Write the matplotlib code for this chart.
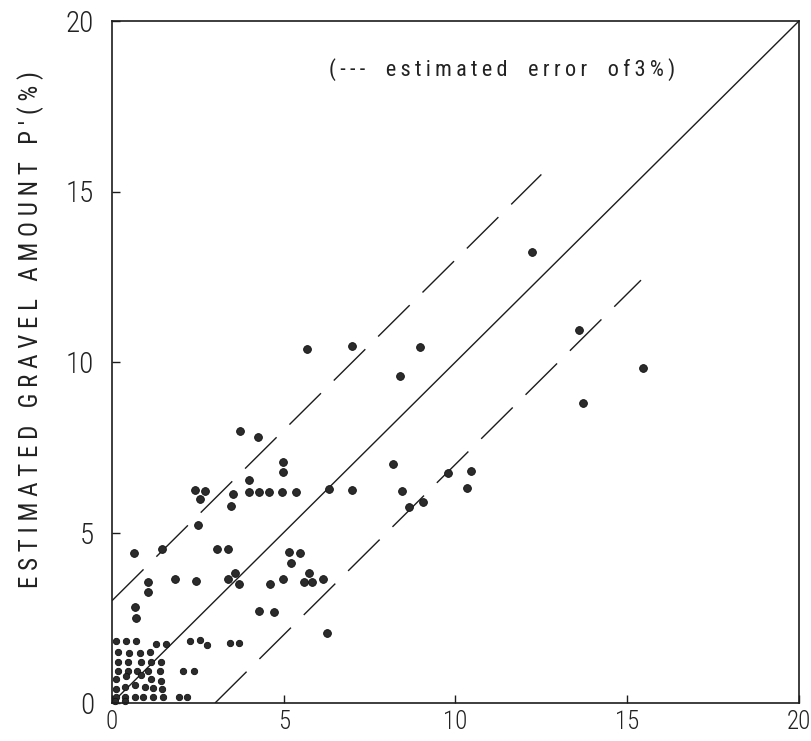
import matplotlib
matplotlib.use("Agg")
import matplotlib.pyplot as plt
from matplotlib import font_manager

# ---------------- data ----------------
# measured (true) gravel amount P (%) -> x ; estimated P' (%) -> y
actual_upper = [0.65, 1.46, 3.05, 3.37, 5.16, 5.48, 5.21, 1.04, 1.06, 1.84, 2.44,
                3.39, 3.58, 3.69, 4.60, 4.99, 0.66, 0.70, 4.28, 4.72, 5.74, 5.59,
                5.81, 6.15, 6.26, 3.73, 4.26, 4.97, 4.97, 4.00, 2.42, 2.71, 2.56,
                3.51, 3.46, 4.00, 4.29, 4.58, 4.94, 5.36, 2.49, 6.32, 6.98, 5.67,
                6.98, 8.97, 8.38, 8.17, 8.43, 8.66, 9.05, 9.79, 10.46, 10.33,
                12.24, 13.60, 15.47, 13.72]
estimated_upper = [4.41, 4.51, 4.51, 4.52, 4.44, 4.41, 4.10, 3.54, 3.25, 3.63, 3.59,
                   3.64, 3.82, 3.48, 3.49, 3.63, 2.81, 2.49, 2.71, 2.66, 3.82, 3.55,
                   3.55, 3.64, 2.06, 7.98, 7.79, 7.08, 6.77, 6.54, 6.25, 6.23, 5.97,
                   6.13, 5.79, 6.19, 6.19, 6.19, 6.19, 6.19, 5.21, 6.28, 6.24, 10.37,
                   10.47, 10.43, 9.60, 7.00, 6.21, 5.76, 5.90, 6.74, 6.80, 6.31,
                   13.23, 10.94, 9.83, 8.79]

actual_low = [0.13, 0.42, 0.71, 1.29, 1.58, 2.26, 2.55, 2.77, 3.44, 3.71,
              0.17, 0.49, 0.82, 1.11,
              0.17, 0.47, 0.85, 1.14, 1.42,
              0.17, 0.47, 0.74, 1.05, 1.41, 2.07, 2.39,
              0.13, 0.42, 0.85, 1.14, 1.42,
              0.13, 0.37, 0.66, 0.95, 1.19, 1.46,
              0.13, 0.37, 0.66, 0.90, 1.19, 1.48, 1.94, 2.18,
              0.10, 0.37]
estimated_low = [1.82, 1.82, 1.82, 1.74, 1.74, 1.82, 1.85, 1.70, 1.77, 1.75,
                 1.50, 1.47, 1.46, 1.50,
                 1.20, 1.20, 1.20, 1.20, 1.20,
                 0.95, 0.95, 0.95, 0.95, 0.95, 0.93, 0.93,
                 0.69, 0.80, 0.82, 0.69, 0.65,
                 0.40, 0.46, 0.53, 0.48, 0.43, 0.41,
                 0.18, 0.18, 0.18, 0.18, 0.18, 0.18, 0.18, 0.18,
                 0.06, 0.06]

error_band = 3.0
upper_err_end = 12.5
lower_err_end = 15.4
x_ticks = [0, 5, 10, 15, 20]
y_ticks = [0, 5, 10, 15, 20]
y_label_words = ["ESTIMATED", "GRAVEL", "AMOUNT", "P'(%)"]
note_words = ["(---", "estimated", "error", "of3%)"]

# ---------------- fonts ----------------
names = {f.name for f in font_manager.fontManager.ttflist}
narrow = None
for cand in ["Liberation Sans Narrow", "Roboto Condensed", "Open Sans Condensed",
             "DejaVu Sans Condensed"]:
    if cand in names:
        narrow = cand
        break
fam = [narrow, "DejaVu Sans"] if narrow else ["DejaVu Sans"]
stretch = "normal" if narrow else "condensed"
plt.rcParams["font.family"] = fam
plt.rcParams["lines.scale_dashes"] = False

THIN = "\u2009"


def spaced(words, inner, between):
    return between.join(inner.join(w) for w in words)


y_label = spaced(y_label_words, " ", "   ")
note = spaced(note_words, THIN, "    ")

# ---------------- figure ----------------
fig = plt.figure(figsize=(8.11, 7.41), dpi=100)
ax = fig.add_axes([112 / 811, 1 - 703 / 741, 687 / 811, 682 / 741])
ax.set_xlim(0, 20)
ax.set_ylim(0, 20)

ink = "#1c1c1c"
ax.plot([0, 20], [0, 20], color=ink, lw=1.0)
ax.plot([0, upper_err_end], [error_band, upper_err_end + error_band],
        color=ink, lw=1.0, dashes=[32, 13])
ax.plot([error_band, lower_err_end], [0, lower_err_end - error_band],
        color=ink, lw=1.0, dashes=[32, 13])

ax.plot(actual_upper, estimated_upper, "o", ms=5.6, color="#2b2b2b",
        mec="#111111", mew=0.6, ls="none", clip_on=False)
ax.plot(actual_low, estimated_low, "o", ms=4.6, color="#2b2b2b",
        mec="#111111", mew=0.6, ls="none", clip_on=False)

ax.set_xticks(x_ticks)
ax.set_yticks(y_ticks)
ax.set_xticklabels([str(t) for t in x_ticks])
ax.set_yticklabels([str(t) for t in y_ticks])
ax.tick_params(direction="in", length=6, width=1.0, color=ink,
               labelsize=21, labelcolor="#222222")
ax.tick_params(axis="x", pad=5, labelsize=18)
ax.tick_params(axis="y", pad=13)
for lab in ax.get_xticklabels() + ax.get_yticklabels():
    lab.set_fontstretch(stretch)
    lab.set_fontweight("light")
for s in ax.spines.values():
    s.set_linewidth(1.2)
    s.set_color(ink)

fig.text(31 / 811, 1 - 330 / 741, y_label, rotation=90, ha="center", va="center",
         fontsize=18, color="#222222", fontstretch=stretch)
ax.text((502 - 112) / 687, (703 - 70) / 682, note, transform=ax.transAxes,
        ha="center", va="center", fontsize=16, color="#222222",
        fontstretch=stretch)

fig.savefig("out.png", dpi=100)
